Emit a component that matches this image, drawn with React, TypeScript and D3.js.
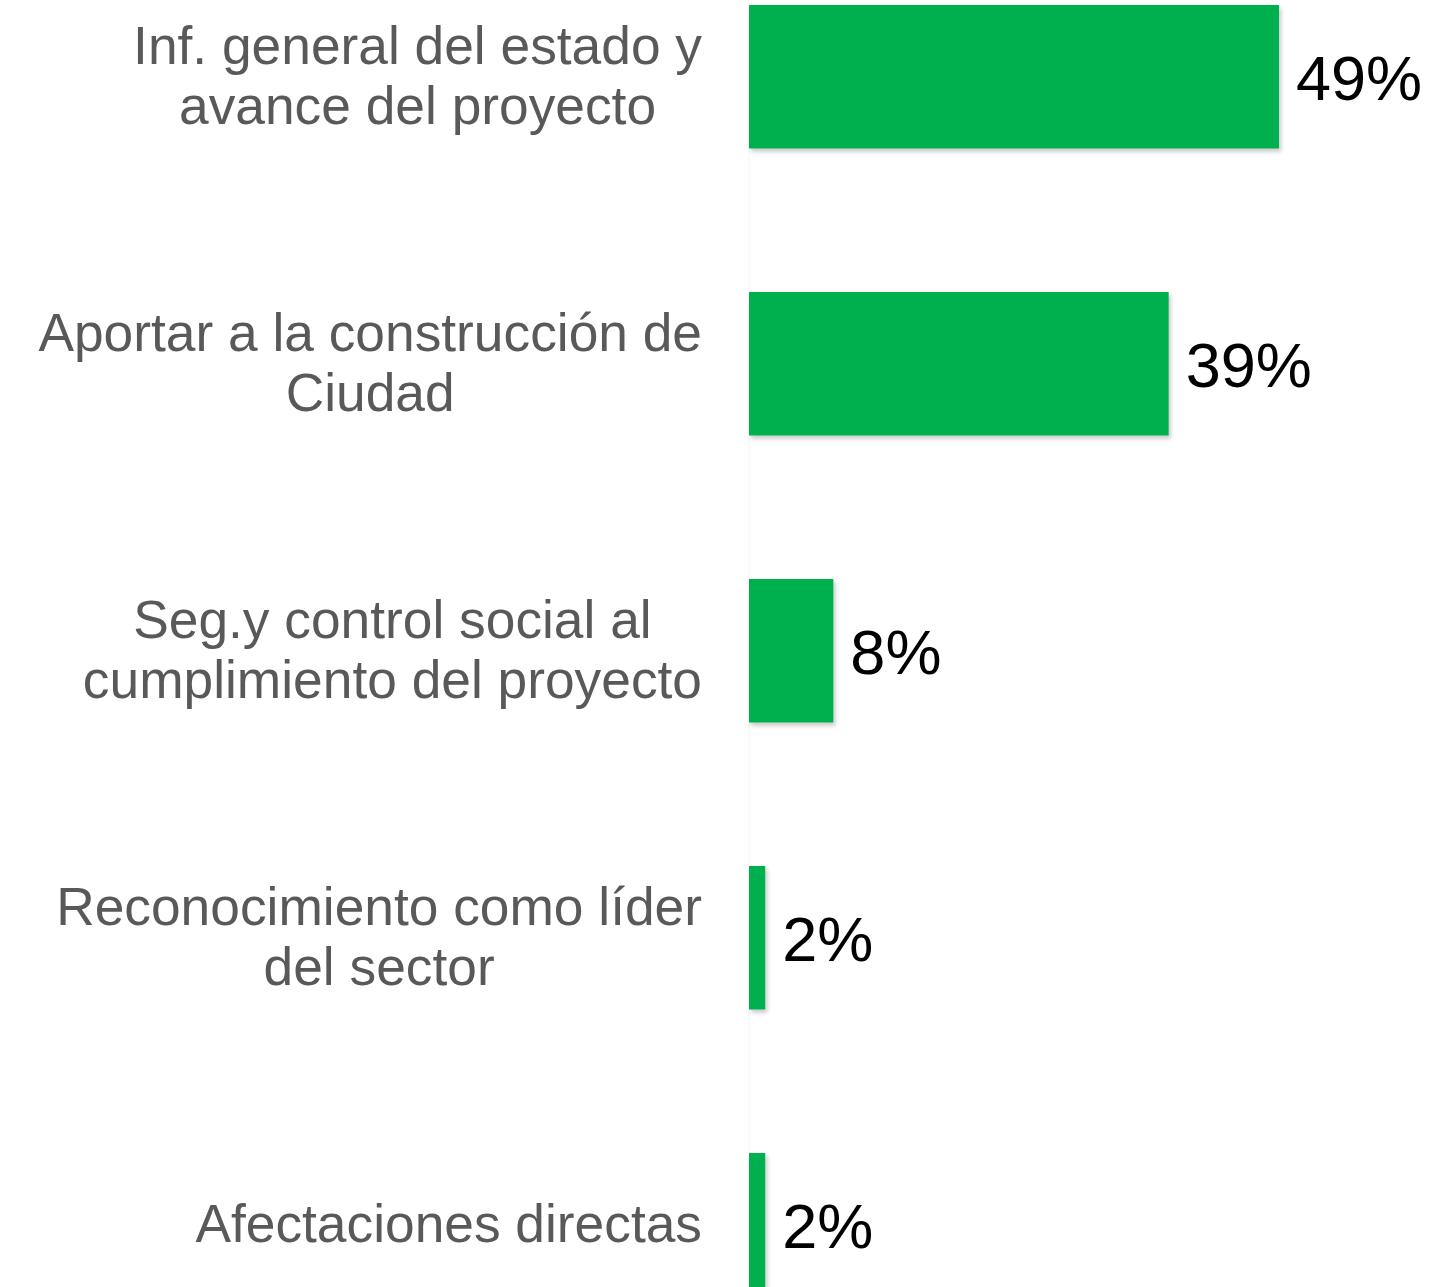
import React, { useEffect, useRef } from "react";
import * as d3 from "d3";

const categories: string[][] = [
  ["Inf. general del estado y", "avance del proyecto"],
  ["Aportar a la construcción de", "Ciudad"],
  ["Seg.y control social al", "cumplimiento del proyecto"],
  ["Reconocimiento como líder", "del sector"],
  ["Afectaciones directas"],
];
const values: number[] = [49, 38.8, 7.8, 1.5, 1.5];
const valueLabels: string[] = ["49%", "39%", "8%", "2%", "2%"];

const W = 1444;
const H = 1287;

export default function App() {
  const ref = useRef<SVGSVGElement | null>(null);

  useEffect(() => {
    document.body.style.margin = "0";
    const svg = d3.select(ref.current);
    svg.selectAll("*").remove();

    const ids = categories.map((_, i) => String(i));
    const y = d3.scaleBand<string>().domain(ids).range([-66.75, 1368.25]).paddingInner(0.5).paddingOuter(0.25);
    const x = d3.scaleLinear().domain([0, 100]).range([749, 749 + 1081.6]);

    const defs = svg.append("defs");
    const f = defs.append("filter").attr("id", "sh").attr("x", "-20%").attr("y", "-20%").attr("width", "160%").attr("height", "160%");
    f.append("feDropShadow").attr("dx", 2).attr("dy", 3).attr("stdDeviation", 2).attr("flood-color", "#000").attr("flood-opacity", 0.22);

    svg.append("line").attr("x1", 749).attr("x2", 749).attr("y1", 0).attr("y2", H).attr("stroke", "#f4f4f4").attr("stroke-width", 1);

    svg.append("g").selectAll("rect").data(values).join("rect")
      .attr("x", x(0))
      .attr("y", (_, i) => y(String(i))!)
      .attr("width", (d) => x(d) - x(0))
      .attr("height", y.bandwidth())
      .attr("fill", "#00B050")
      .attr("filter", "url(#sh)");

    svg.append("g").selectAll("text").data(values).join("text")
      .attr("x", (d) => x(d) + 17)
      .attr("y", (_, i) => y(String(i))! + y.bandwidth() / 2)
      .attr("dy", "0.37em")
      .attr("font-family", "'Liberation Sans', Arial, sans-serif")
      .attr("font-size", 63)
      .attr("fill", "#000")
      .text((_, i) => valueLabels[i]);

    const lh = 60;
    categories.forEach((lines, i) => {
      const cy = y(String(i))! + y.bandwidth() / 2;
      const g = svg.append("g");
      const texts = lines.map((ln, j) =>
        g.append("text")
          .attr("y", cy + (j - (lines.length - 1) / 2) * lh)
          .attr("dy", "0.33em")
          .attr("font-family", "'Liberation Sans', Arial, sans-serif")
          .attr("font-size", 53.3)
          .attr("fill", "#595959")
          .attr("text-anchor", "middle")
          .text(ln)
      );
      const maxW = d3.max(texts, (t) => (t.node() as SVGTextElement).getComputedTextLength()) || 0;
      texts.forEach((t) => t.attr("x", 702 - maxW / 2));
    });
  }, []);

  return <svg ref={ref} width={W} height={H} style={{ display: "block", background: "#fff" }} />;
}
